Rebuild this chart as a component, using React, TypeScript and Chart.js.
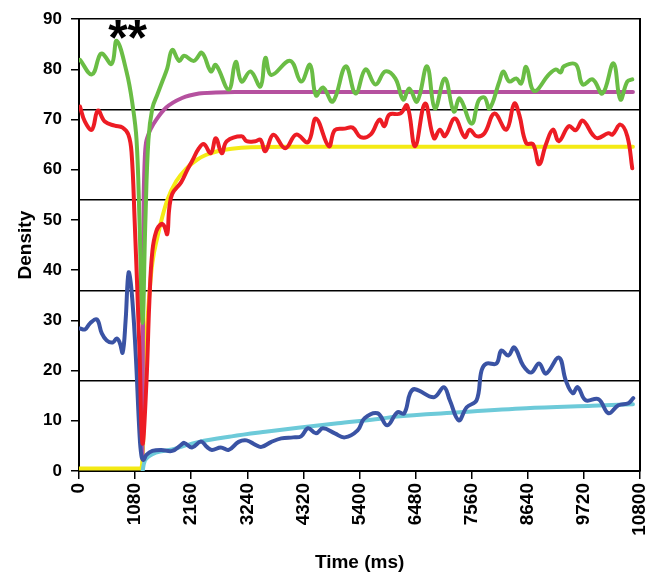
import React, { useEffect, useRef } from "react";
import { Chart, registerables } from "chart.js";

Chart.register(...registerables);

const xTicks = [0, 1080, 2160, 3240, 4320, 5400, 6480, 7560, 8640, 9720, 10800];
const yTicks = [0, 10, 20, 30, 40, 50, 60, 70, 80, 90];
const bandLines = [0, 18, 36, 54, 72, 90];

const starText = "**";
const starAt: [number, number] = [935, 82.8];

const greenSeries: [number, number][] = [
  [19, 81.9], [248, 79.0], [401, 82.9], [458, 83.1], [630, 81.1], [725, 85.7], [916, 79.5],
  [1030, 73], [1107, 66], [1164, 50], [1221, 29.5], [1278, 50], [1336, 66], [1412, 72.3],
  [1508, 75], [1603, 77.6], [1698, 80.2], [1794, 83.9], [1927, 81.7], [2023, 82.7],
  [2213, 81.7], [2366, 83.3], [2538, 79.6], [2633, 80.9], [2881, 76], [3015, 81.5],
  [3129, 77.6], [3301, 79.6], [3492, 76.6], [3587, 82.3], [3702, 78.9], [4064, 81.7],
  [4274, 77.6], [4446, 80.9], [4560, 74.8], [4694, 76.4], [4885, 73.6], [5133, 80.6],
  [5324, 75.2], [5514, 80], [5705, 77], [5896, 79.6], [6087, 78.2], [6240, 74],
  [6354, 76.2], [6507, 73.6], [6697, 80.6], [6850, 72.2], [7041, 78.2], [7213, 71.6],
  [7327, 74.2], [7556, 69.2], [7690, 73.8], [7804, 74.4], [7900, 72.2], [8090, 77.6],
  [8166, 79.6], [8281, 77.6], [8415, 78.2], [8510, 77.2], [8606, 80.5], [8760, 75.7],
  [9045, 79], [9178, 80], [9270, 79.4], [9330, 80.6], [9560, 81], [9693, 77],
  [9884, 78], [10075, 75.2], [10285, 81.2], [10418, 74], [10552, 77.6], [10647, 78],
];

const redSeries: [number, number][] = [
  [19, 72.6], [114, 69.6], [248, 68], [363, 71.8], [496, 69.6], [687, 68.8], [840, 68.4],
  [950, 67], [1011, 63.5], [1069, 50.4], [1164, 24], [1221, 5.5], [1297, 17.5], [1355, 34],
  [1412, 43.8], [1488, 47.8], [1584, 49.2], [1640, 48.8], [1698, 47.2], [1736, 52.2],
  [1794, 55.2], [1965, 57.5], [2080, 59.9], [2175, 61.7], [2309, 64.3], [2404, 65.1],
  [2538, 63.3], [2633, 66.3], [2748, 63.3], [2843, 65.7], [3129, 66.7], [3225, 65.7],
  [3396, 65.7], [3492, 66], [3587, 63.7], [3740, 67], [3969, 64.3], [4179, 67],
  [4408, 65.5], [4560, 70.2], [4808, 64.7], [4923, 67.9], [5114, 68.2], [5266, 68.4],
  [5419, 66.5], [5610, 67], [5782, 70], [5877, 68.7], [5972, 71], [6182, 71.2],
  [6316, 72.8], [6468, 64.7], [6659, 73.2], [6831, 66.3], [6946, 68], [7041, 66.7],
  [7232, 70.2], [7423, 66.5], [7518, 68], [7651, 66.7], [7804, 67.3], [7995, 71.2],
  [8224, 68], [8377, 73.2], [8472, 71], [8606, 65.3], [8739, 65.1], [8854, 61.1],
  [8987, 65.1], [9121, 68], [9235, 65.7], [9426, 68.7], [9560, 67.9], [9693, 69.8],
  [9884, 67], [9979, 66.3], [10189, 67.3], [10266, 67], [10418, 69], [10552, 66.7],
  [10647, 60.3],
];

const blueSeries: [number, number][] = [
  [19, 28.4], [114, 28.2], [210, 29.4], [343, 30.2], [439, 27.4], [534, 26], [649, 25.6],
  [725, 26.4], [782, 25.6], [840, 23.6], [897, 30], [954, 39.5], [1011, 36], [1088, 24],
  [1164, 7.5], [1202, 3], [1240, 2.2], [1297, 3.2], [1412, 4], [1584, 4.2], [1794, 4],
  [1965, 5.2], [2023, 5.6], [2175, 4.7], [2347, 5.9], [2461, 4.8], [2557, 4.2],
  [2729, 4.7], [2881, 4.2], [3072, 5.8], [3225, 6.1], [3396, 5.2], [3511, 4.8],
  [3702, 5.8], [3893, 6.5], [4122, 6.7], [4274, 6.9], [4408, 8.5], [4560, 7.5],
  [4694, 8.5], [4923, 7.5], [5114, 6.7], [5362, 8.1], [5495, 10.5], [5744, 11.5],
  [5934, 9.1], [6125, 11.7], [6259, 11.5], [6373, 15.5], [6468, 16.3], [6831, 14.7],
  [7022, 16.7], [7136, 14.1], [7308, 10.1], [7461, 12.7], [7651, 14.1], [7747, 20],
  [7842, 21.4], [8033, 21.4], [8128, 24], [8262, 23], [8377, 24.6], [8548, 21],
  [8701, 19.6], [8854, 21.4], [8987, 19.4], [9235, 22.6], [9369, 18], [9502, 15.5],
  [9598, 16.7], [9750, 14.1], [9998, 14.3], [10189, 11.5], [10380, 13.1], [10571, 13.5],
  [10666, 14.5],
];

const magentaFit: [number, number][] = [
  [1221, 3], [1245, 55], [1317, 66.5], [1400, 68.5], [1488, 70], [1679, 72.4],
  [1984, 74.3], [2309, 75.2], [2633, 75.4], [3000, 75.5], [10660, 75.5],
];

const yellowFit: [number, number][] = [
  [0, 0.5], [1190, 0.5], [1225, 3], [1290, 25], [1360, 36], [1412, 41.5], [1507, 46.5],
  [1600, 50.5], [1700, 54], [1870, 57.7], [2060, 60.2], [2270, 62], [2450, 63],
  [2700, 63.8], [2940, 64.2], [3300, 64.5], [4000, 64.6], [10660, 64.6],
];

const cyanFit: [number, number][] = [
  [1225, 0], [1250, 1.5], [1355, 3], [1794, 4.3], [2309, 5.8], [2938, 6.9], [3587, 7.8],
  [4217, 8.6], [4980, 9.5], [5800, 10.4], [6068, 10.8], [7327, 11.7], [8606, 12.5],
  [9884, 13], [10660, 13.3],
];

const FONT = '"Liberation Sans", Arial, sans-serif';

export default function App() {
  const ref = useRef<HTMLCanvasElement>(null);

  useEffect(() => {
    if (!ref.current) return;
    const toPts = (a: [number, number][]) => a.map(([x, y]) => ({ x, y }));
    const ds = (label: string, data: [number, number][], color: string, smooth: boolean) => ({
      label,
      data: toPts(data),
      borderColor: color,
      backgroundColor: color,
      borderWidth: 4,
      pointRadius: 0,
      fill: false,
      tension: smooth ? 0.4 : 0,
      cubicInterpolationMode: smooth ? ("default" as const) : ("monotone" as const),
      borderJoinStyle: "round" as const,
      borderCapStyle: "round" as const,
      yAxisID: "y",
    });

    const starsPlugin = {
      id: "stars",
      afterDatasetsDraw(chart: any) {
        const { ctx, scales } = chart;
        ctx.save();
        ctx.font = `bold 50px ${FONT}`;
        ctx.fillStyle = "#000";
        ctx.textAlign = "center";
        ctx.textBaseline = "alphabetic";
        ctx.fillText(starText, scales.x.getPixelForValue(starAt[0]), scales.y.getPixelForValue(starAt[1]));
        ctx.restore();
      },
    };

    const yTickFont = { family: FONT, size: 17, weight: "bold" as const };
    const xTickFont = { family: FONT, size: 19, weight: "bold" as const };
    const titleFont = { family: FONT, size: 19, weight: "bold" as const };

    const chart = new Chart(ref.current, {
      type: "line",
      data: {
        datasets: [
          ds("Red", redSeries, "#ED1C24", true),
          ds("Blue", blueSeries, "#3A53A4", true),
          ds("Green", greenSeries, "#6ABD45", true),
          ds("Cyan fit", cyanFit, "#6DCAD9", false),
          ds("Magenta fit", magentaFit, "#B5519F", false),
          ds("Yellow fit", yellowFit, "#F4EA14", false),
        ],
      },
      options: {
        animation: false,
        responsive: false,
        layout: { padding: { top: 17, right: 22, left: 0, bottom: 0 } },
        plugins: { legend: { display: false }, tooltip: { enabled: false } },
        scales: {
          x: {
            type: "linear",
            min: 0,
            max: 10800,
            afterBuildTicks: (s: any) => {
              s.ticks = xTicks.map((v) => ({ value: v }));
            },
            afterFit: (s: any) => {
              s.height = 104;
            },
            grid: { drawOnChartArea: false, drawTicks: true, tickLength: 8, color: "#000", lineWidth: 1.5 },
            border: { display: true, color: "#000", width: 2 },
            ticks: {
              autoSkip: false,
              minRotation: 90,
              maxRotation: 90,
              padding: 4,
              color: "#000",
              font: xTickFont,
              callback: (v: any) => String(v),
            },
            title: {
              display: true,
              text: "Time (ms)",
              color: "#000",
              font: titleFont,
              padding: { top: 0, bottom: 1 },
            },
          },
          y: {
            type: "linear",
            position: "left",
            min: 0,
            max: 90,
            afterBuildTicks: (s: any) => {
              s.ticks = yTicks.map((v) => ({ value: v }));
            },
            afterFit: (s: any) => {
              s.width = 79;
            },
            grid: { drawOnChartArea: false, drawTicks: true, tickLength: 8, color: "#000", lineWidth: 1.5 },
            border: { display: true, color: "#000", width: 2 },
            ticks: { padding: 9, color: "#000", font: yTickFont, callback: (v: any) => String(v) },
            title: {
              display: true,
              text: "Density",
              color: "#000",
              font: titleFont,
              padding: { top: 14, bottom: 0 },
            },
          },
          y2: {
            type: "linear",
            position: "right",
            min: 0,
            max: 90,
            afterBuildTicks: (s: any) => {
              s.ticks = bandLines.map((v) => ({ value: v }));
            },
            afterFit: (s: any) => {
              s.width = 0;
            },
            grid: { drawOnChartArea: true, drawTicks: false, color: "#000", lineWidth: 1.5 },
            border: { display: true, color: "#000", width: 2 },
            ticks: { display: false },
          },
        },
      } as any,
      plugins: [starsPlugin],
    });

    return () => chart.destroy();
  }, []);

  return (
    <div style={{ position: "absolute", left: 0, top: 0, width: 667, height: 575, background: "#fff" }}>
      <canvas ref={ref} width={667} height={575} />
    </div>
  );
}
